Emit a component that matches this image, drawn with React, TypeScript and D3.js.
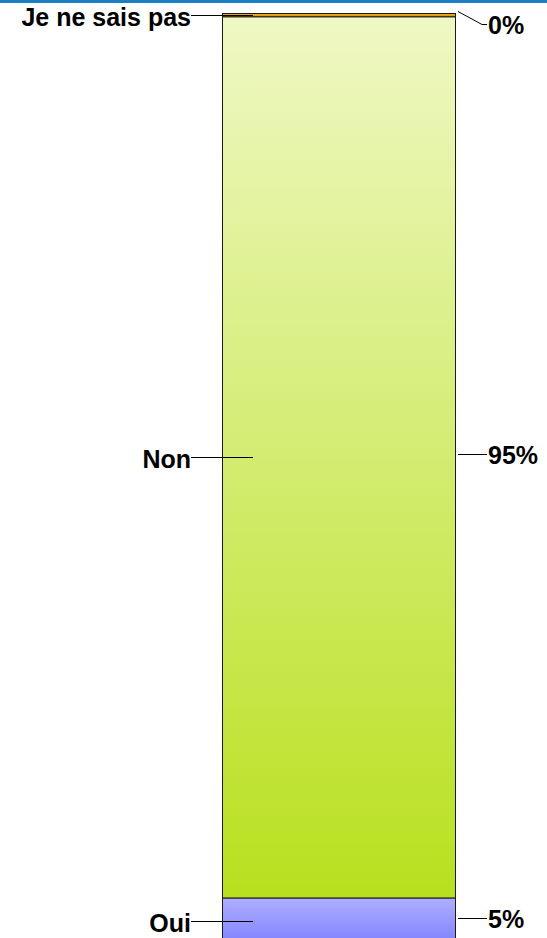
import React from "react";
import * as d3 from "d3";

const categories = ["Oui", "Non", "Je ne sais pas"];
const values = [5, 94.65, 0.35];
const valueLabels = ["5%", "95%", "0%"];
const gradients = [
  ["#aeaeff", "#8080ff"],
  ["#eff8c4", "#b8e01e"],
  ["#f0b020", "#d89000"],
];

const W = 547;
const H = 938;

export default function App() {
  const y = d3.scaleLinear().domain([0, 100]).range([944.5, 13.5]);
  const x = d3.scaleBand().domain(["q"]).range([222.5, 455.5]).padding(0);
  const bx = x("q") as number;
  const bw = x.bandwidth();
  const stacks: { start: number; end: number }[] = [];
  let acc = 0;
  values.forEach((v) => {
    stacks.push({ start: acc, end: acc + v });
    acc += v;
  });
  const font = "'Liberation Sans', Arial, sans-serif";
  return (
    <div style={{ position: "absolute", left: 0, top: 0 }}>
      <svg width={W} height={H} style={{ display: "block" }}>
        <defs>
          {gradients.map((g, i) => (
            <linearGradient key={i} id={`g${i}`} x1="0" y1="0" x2="0" y2="1">
              <stop offset="0%" stopColor={g[0]} />
              <stop offset="100%" stopColor={g[1]} />
            </linearGradient>
          ))}
        </defs>
        <rect x={0} y={0} width={W} height={H} fill="#fff" />
        <rect x={0} y={0} width={W} height={3} fill="#1a80c4" />
        {stacks.map((s, i) => (
          <rect
            key={i}
            x={bx}
            y={y(s.end)}
            width={bw}
            height={y(s.start) - y(s.end)}
            fill={`url(#g${i})`}
            stroke="#1a1a1a"
            strokeWidth={1}
          />
        ))}
        {stacks.map((s, i) => {
          const c = Math.round((y(s.start) + y(s.end)) / 2) + 0.5;
          const ly = Math.max(c, 14.5);
          const ty = Math.max(c, 15) + 10;
          return (
            <g key={"l" + i}>
              <line x1={191} x2={253} y1={ly} y2={ly} stroke="#000" strokeWidth={1} />
              <text x={191} y={ty} textAnchor="end" fontFamily={font} fontWeight="bold" fontSize={25} fill="#000">
                {categories[i]}
              </text>
            </g>
          );
        })}
        {stacks.map((s, i) => {
          const c = Math.round((y(s.start) + y(s.end)) / 2) + 0.5;
          const ry = Math.max(c - 3, 24.5);
          const sy = c - 4;
          const pts: [number, number][] =
            ry > sy + 1 ? [[458, sy], [482, ry], [487, ry]] : [[458, ry], [487, ry]];
          return (
            <g key={"r" + i}>
              <path d={d3.line()(pts) as string} fill="none" stroke="#000" strokeWidth={1} />
              <text x={488} y={ry + 9} fontFamily={font} fontWeight="bold" fontSize={25} fill="#000">
                {valueLabels[i]}
              </text>
            </g>
          );
        })}
      </svg>
    </div>
  );
}
